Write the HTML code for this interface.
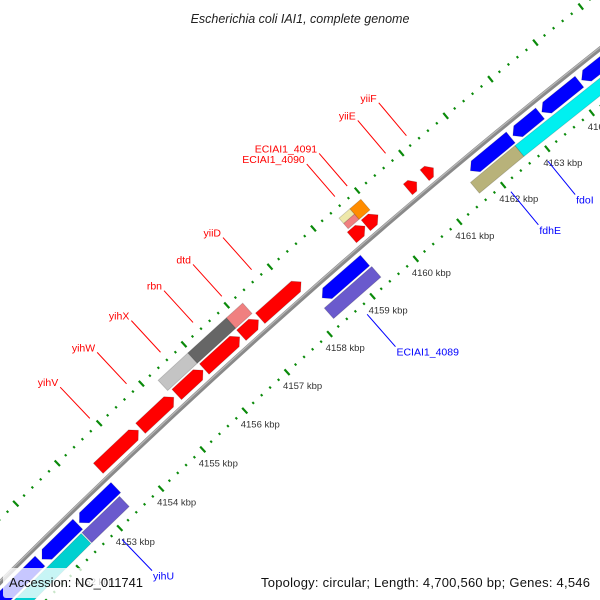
<!DOCTYPE html>
<html><head><meta charset="utf-8">
<style>
html,body{margin:0;padding:0;background:#fff;width:600px;height:600px;overflow:hidden;}
svg{display:block;overflow:hidden;font-family:"Liberation Sans","DejaVu Sans",sans-serif;}
</style></head>
<body>
<svg id="map" width="600" height="600" viewBox="0 0 600 600" xmlns="http://www.w3.org/2000/svg">
  <defs><clipPath id="frame"><rect x="0" y="0" width="600" height="600"/></clipPath></defs>
  <rect x="0" y="0" width="600" height="600" fill="#fff"/>
  <g clip-path="url(#frame)">
  <g id="ticks"></g>
  <g id="backbone"></g>
  <g id="genes"></g>
  <g id="labels"></g>
  </g>
  <text x="300" y="23" text-anchor="middle" font-size="12.5" font-style="italic" fill="#222">Escherichia coli IAI1, complete genome</text>
  <rect x="3" y="568" width="147" height="30" rx="3" fill="#fff" fill-opacity="0.78"/>
  <text x="9" y="587" font-size="13" fill="#111" textLength="134">Accession: NC_011741</text>
  <rect x="254" y="568" width="343" height="30" rx="3" fill="#fff" fill-opacity="0.78"/>
  <text x="261" y="587" font-size="13" fill="#111" textLength="329">Topology: circular; Length: 4,700,560 bp; Genes: 4,546</text>
</svg>
<script>
// ---- data ----
var geneStart = [4153.45,4154.46,4155.32,4155.97,4156.84,4157.28, 4159.40,4159.72,4160.68,4161.06,
                 4155.25,4155.95,4156.85, 4159.45,4159.45,4159.70,
                 4150.40,4151.65,4152.56,4158.32,4161.72,4162.68,4163.33,4164.22,
                 4149.50,4152.47,4158.23,4161.59,4162.60];
var geneEnd   = [4154.41,4155.25,4155.94,4156.80,4157.24,4158.23, 4159.70,4160.00,4160.88,4161.26,
                 4155.95,4156.85,4157.23, 4159.70,4159.70,4159.95,
                 4151.60,4152.52,4153.44,4159.31,4162.63,4163.29,4164.17,4165.60,
                 4152.45,4153.38,4159.33,4162.60,4166.50];
var geneRing  = [1,1,1,1,1,1, 1,1,1,1,
                 2,2,2, 5,6,2,
                 -1,-1,-1,-1,-1,-1,-1,-1,
                 -2,-2,-2,-2,-2];
var geneShape = ["f","f","f","f","f","f","f","f","f","f",
                 "r","r","r","r","r","r",
                 "b","b","b","b","b","b","b","b",
                 "r","r","r","r","r"];
var geneColor = ["#ff0000","#ff0000","#ff0000","#ff0000","#ff0000","#ff0000","#ff0000","#ff0000","#ff0000","#ff0000",
                 "#c4c4c4","#666666","#f08080","#f08080","#eee8aa","#ff8c00",
                 "#0000ff","#0000ff","#0000ff","#0000ff","#0000ff","#0000ff","#0000ff","#0000ff",
                 "#00d0d0","#6a5acd","#6a5acd","#b8b27a","#00f0f0"];
var labelText = ["yihV","yihW","yihX","rbn","dtd","yiiD","ECIAI1_4090","ECIAI1_4091","yiiE","yiiF",
                 "ECIAI1_4089","fdhE","fdoI","yihU"];
var labelKbp  = [4153.94,4154.81,4155.61,4156.37,4157.04,4157.73,4159.64,4159.92,4160.79,4161.26,
                 4158.72,4162.03,4162.87,4152.89];
var labelSide = [1,1,1,1,1,1,1,1,1,1,-1,-1,-1,-1];
var tickFirst = 4148, tickLast = 4167;

// ---- geometry ----
var CX = 4945, CY = 5537, R = 7000;
var A0 = -133.93, DEG_PER_KBP = 0.471, K0 = 4153;
function ang(k){ return (A0 + (k - K0) * DEG_PER_KBP) * Math.PI / 180; }
function pt(k, off){ var a = ang(k), r = R + off; return [CX + r*Math.cos(a), CY + r*Math.sin(a)]; }
var ringGeom = {"1":[6,20],"2":[22,36],"5":[22,29],"6":[29,36],"-1":[-20,-6],"-2":[-36,-22]};
var NS = "http://www.w3.org/2000/svg";
function mk(tag, attrs, parent){ var e = document.createElementNS(NS, tag); for (var a in attrs) e.setAttribute(a, attrs[a]); parent.appendChild(e); return e; }
function f(p){ return p[0].toFixed(2)+","+p[1].toFixed(2); }

// ticks
var tg = document.getElementById("ticks");
var nSteps = Math.round((tickLast - tickFirst) / 0.2);
for (var i = 0; i <= nSteps; i++) {
  var k = tickFirst + i * 0.2;
  var major = Math.abs(k - Math.round(k)) < 1e-6;
  var half = major ? 3.8 : 1.2;
  [45, -45].forEach(function(off){
    var p1 = pt(k, off - half), p2 = pt(k, off + half);
    var t = mk("line", {x1:p1[0],y1:p1[1],x2:p2[0],y2:p2[1],stroke:"#0a8a0a","stroke-width":major?2.2:2}, tg);
    
    
  });
  if (major) {
    var lp = pt(k, -45);
    var tl = mk("text", {x:lp[0]-4, y:lp[1]+17, "font-size":"9.5", fill:"#333"}, tg);
    tl.textContent = Math.round(k) + " kbp";
    
    
  }
}

// backbone
var bg = document.getElementById("backbone");
var pts = [];
for (var k2 = 4147; k2 <= 4168; k2 += 0.5) pts.push(f(pt(k2, 0)));
var bb = mk("polyline", {points:pts.join(" "), fill:"none", stroke:"#8a8a8a", "stroke-width":4.5}, bg);


var bh = mk("polyline", {points:pts.join(" "), fill:"none", stroke:"#b8b8b8", "stroke-width":1.2, transform:"translate(-0.8,-0.8)"}, bg);



// genes
var gg = document.getElementById("genes");
for (var g = 0; g < geneStart.length; g++) {
  var a = geneStart[g], b = geneEnd[g], rg = ringGeom[String(geneRing[g])];
  var r0 = rg[0], r1 = rg[1], rm = (r0 + r1) / 2, h = Math.min(0.12, (b - a) / 2);
  var poly;
  if (geneShape[g] === "f") poly = [pt(a,r1),pt(b-h,r1),pt(b,rm),pt(b-h,r0),pt(a,r0)];
  else if (geneShape[g] === "b") poly = [pt(b,r1),pt(a+h,r1),pt(a,rm),pt(a+h,r0),pt(b,r0)];
  else poly = [pt(a,r1),pt(b,r1),pt(b,r0),pt(a,r0)];
  var ge = mk("polygon", {points:poly.map(f).join(" "), fill:geneColor[g], stroke:"rgba(0,0,0,0.18)", "stroke-width":0.8}, gg);
  
  
}

// labels
var lg = document.getElementById("labels");
for (var l = 0; l < labelText.length; l++) {
  var side = labelSide[l], col = side > 0 ? "#ff0000" : "#0000ff";
  var p1 = pt(labelKbp[l], side * 55), p2 = pt(labelKbp[l], side * 98);
  var ln = mk("line", {x1:p1[0],y1:p1[1],x2:p2[0],y2:p2[1],stroke:col,"stroke-width":1}, lg);
  
  
  var tx = side > 0 ? mk("text", {x:p2[0]-2, y:p2[1]-1, "text-anchor":"end", "font-size":"10.5", fill:col}, lg)
                    : mk("text", {x:p2[0]+1, y:p2[1]+9, "font-size":"10.5", fill:col}, lg);
  tx.textContent = labelText[l];
  
  
}
</script>
</body></html>
